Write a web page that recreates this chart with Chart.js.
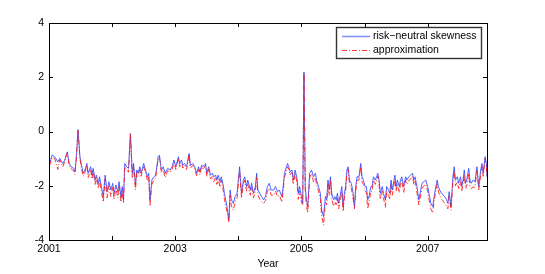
<!DOCTYPE html>
<html>
<head>
<meta charset="utf-8">
<script src="https://cdn.jsdelivr.net/npm/chart.js@4"></script>
<style>
  html, body { margin: 0; padding: 0; background: #fff; }
  #wrap { width: 545px; height: 274px; }
</style>
</head>
<body>
<div id="wrap"><canvas id="skewChart" width="545" height="274"></canvas></div>
<script>
// decimal year of each observation
const years = [
  2001.01, 2001.05, 2001.09, 2001.14, 2001.17, 2001.22, 2001.25, 2001.28, 2001.29, 2001.32,
  2001.35, 2001.39, 2001.41, 2001.43, 2001.46, 2001.49, 2001.51, 2001.54, 2001.57, 2001.60,
  2001.62, 2001.66, 2001.68, 2001.70, 2001.73, 2001.75, 2001.78, 2001.80, 2001.83, 2001.86,
  2001.89, 2001.92, 2001.95, 2001.98, 2002.01, 2002.03, 2002.06, 2002.09, 2002.11, 2002.14,
  2002.16, 2002.18, 2002.20, 2002.23, 2002.26, 2002.29, 2002.32, 2002.34, 2002.37, 2002.39,
  2002.41, 2002.44, 2002.46, 2002.50, 2002.53, 2002.56, 2002.58, 2002.60, 2002.63, 2002.66,
  2002.69, 2002.73, 2002.75, 2002.78, 2002.81, 2002.84, 2002.88, 2002.92, 2002.95, 2002.98,
  2003.01, 2003.03, 2003.05, 2003.07, 2003.10, 2003.12, 2003.15, 2003.18, 2003.22, 2003.24,
  2003.28, 2003.31, 2003.34, 2003.37, 2003.39, 2003.42, 2003.44, 2003.48, 2003.50, 2003.53,
  2003.56, 2003.59, 2003.61, 2003.64, 2003.66, 2003.68, 2003.71, 2003.73, 2003.76, 2003.78,
  2003.82, 2003.85, 2003.87, 2003.89, 2003.92, 2003.95, 2003.98, 2004.02, 2004.05, 2004.08,
  2004.10, 2004.13, 2004.15, 2004.19, 2004.21, 2004.24, 2004.27, 2004.29, 2004.31, 2004.34,
  2004.37, 2004.40, 2004.43, 2004.46, 2004.49, 2004.52, 2004.56, 2004.59, 2004.62, 2004.65,
  2004.69, 2004.71, 2004.73, 2004.78, 2004.80, 2004.82, 2004.85, 2004.87, 2004.90, 2004.93,
  2004.95, 2004.97, 2005.00, 2005.02, 2005.04, 2005.06, 2005.08, 2005.10, 2005.13, 2005.16,
  2005.19, 2005.22, 2005.24, 2005.27, 2005.30, 2005.32, 2005.35, 2005.38, 2005.40, 2005.42,
  2005.44, 2005.46, 2005.48, 2005.51, 2005.53, 2005.55, 2005.57, 2005.59, 2005.61, 2005.64,
  2005.66, 2005.68, 2005.70, 2005.72, 2005.74, 2005.76, 2005.79, 2005.82, 2005.84, 2005.86,
  2005.88, 2005.91, 2005.94, 2005.96, 2005.98, 2006.01, 2006.03, 2006.05, 2006.07, 2006.10,
  2006.12, 2006.14, 2006.17, 2006.21, 2006.23, 2006.25, 2006.28, 2006.30, 2006.33, 2006.35,
  2006.38, 2006.40, 2006.42, 2006.44, 2006.48, 2006.50, 2006.52, 2006.55, 2006.57, 2006.59,
  2006.62, 2006.65, 2006.67, 2006.70, 2006.73, 2006.76, 2006.78, 2006.80, 2006.83, 2006.86,
  2006.88, 2006.91, 2006.94, 2006.97, 2007.00, 2007.03, 2007.05, 2007.08, 2007.11, 2007.13,
  2007.15, 2007.17, 2007.19, 2007.22, 2007.24, 2007.27, 2007.30, 2007.32, 2007.34, 2007.37,
  2007.40, 2007.42, 2007.44, 2007.47, 2007.49, 2007.52, 2007.54, 2007.56, 2007.58, 2007.60,
  2007.62, 2007.65, 2007.67, 2007.69, 2007.72, 2007.75, 2007.78, 2007.81, 2007.84, 2007.86,
  2007.88, 2007.91, 2007.93, 2007.94
];

const skewness = [
  -1.18, -0.87, -0.93, -1.12, -0.99, -1.18, -1.05, -0.81, -0.75, -1.18,
  -1.30, -1.36, -1.48, -1.05, 0.07, -0.93, -1.18, -1.54, -1.42, -1.18,
  -1.54, -1.30, -1.61, -1.36, -1.79, -1.61, -1.91, -1.67, -2.03, -2.40,
  -1.61, -2.22, -1.85, -2.16, -1.91, -2.28, -1.97, -2.22, -1.85, -2.40,
  -2.03, -2.52, -1.18, -1.30, -1.36, -0.07, -1.54, -1.18, -1.97, -1.42,
  -1.54, -1.30, -1.54, -1.18, -1.42, -1.67, -1.54, -2.52, -1.79, -1.67,
  -1.61, -0.93, -0.87, -1.42, -1.30, -1.54, -1.36, -1.42, -1.30, -1.05,
  -1.30, -1.12, -0.93, -1.18, -1.05, -1.24, -1.18, -1.30, -0.81, -1.24,
  -1.18, -1.30, -1.54, -1.30, -1.48, -1.24, -1.30, -1.18, -1.54, -1.30,
  -1.61, -1.54, -1.67, -1.61, -1.79, -1.61, -1.85, -1.67, -1.97, -2.28,
  -2.77, -3.26, -2.16, -2.52, -2.65, -2.40, -2.28, -1.30, -2.28, -1.79,
  -1.67, -2.03, -1.79, -2.16, -1.91, -2.28, -2.03, -1.54, -2.16, -2.28,
  -2.40, -2.52, -2.40, -2.03, -1.91, -2.16, -2.16, -2.03, -2.22, -2.16,
  -2.40, -2.03, -1.54, -1.18, -1.30, -1.48, -1.42, -1.79, -1.42, -1.73,
  -2.28, -2.03, -2.40, -2.65, 2.19, -2.03, -2.52, -2.77, -1.54, -1.42,
  -1.67, -1.54, -1.79, -2.03, -2.28, -2.89, -3.14, -2.40, -2.52, -1.79,
  -2.16, -1.67, -2.28, -2.52, -2.40, -2.52, -2.28, -2.65, -2.40, -2.03,
  -2.77, -2.28, -2.03, -1.42, -1.30, -1.79, -1.91, -2.28, -2.77, -2.03,
  -1.67, -1.67, -1.18, -1.67, -1.79, -2.03, -2.03, -2.52, -2.40, -2.03,
  -2.03, -1.67, -1.79, -1.54, -1.79, -2.28, -2.03, -2.28, -2.52, -2.03,
  -2.16, -2.28, -1.79, -2.16, -1.61, -2.03, -1.79, -2.03, -1.79, -1.67,
  -2.03, -1.67, -1.79, -1.67, -1.61, -1.54, -1.79, -1.67, -2.03, -2.52,
  -2.28, -1.91, -1.85, -1.79, -2.03, -2.40, -2.65, -2.77, -2.28, -2.03,
  -1.79, -2.03, -2.16, -2.28, -2.34, -2.40, -2.52, -2.65, -2.22, -2.77,
  -1.67, -1.30, -1.79, -1.67, -1.91, -1.67, -2.03, -1.79, -1.42, -1.91,
  -1.79, -1.36, -1.79, -1.91, -1.79, -1.85, -1.30, -2.03, -1.42, -1.18,
  -1.54, -0.93, -1.18, -1.67
];

const approximation = [
  -1.25, -0.95, -1.00, -1.40, -1.05, -1.30, -1.10, -0.85, -0.80, -1.25,
  -1.38, -1.45, -1.58, -1.10, 0.03, -1.00, -1.30, -1.65, -1.50, -1.25,
  -1.70, -1.40, -1.75, -1.45, -1.95, -1.70, -2.10, -1.80, -2.20, -2.60,
  -1.75, -2.45, -2.00, -2.40, -2.05, -2.50, -2.10, -2.45, -2.00, -2.60,
  -2.20, -2.65, -1.30, -1.40, -1.50, -0.10, -1.70, -1.30, -2.15, -1.55,
  -1.65, -1.40, -1.65, -1.30, -1.55, -1.80, -1.65, -2.75, -1.95, -1.80,
  -1.70, -1.00, -0.95, -1.50, -1.40, -1.70, -1.45, -1.50, -1.40, -1.15,
  -1.40, -1.20, -1.00, -1.30, -1.15, -1.35, -1.25, -1.40, -0.85, -1.35,
  -1.25, -1.40, -1.65, -1.40, -1.60, -1.30, -1.40, -1.25, -1.65, -1.40,
  -1.75, -1.65, -1.85, -1.70, -1.95, -1.75, -2.05, -1.80, -2.15, -2.50,
  -2.95, -3.35, -2.35, -2.75, -2.90, -2.60, -2.45, -1.45, -2.45, -1.95,
  -1.80, -2.20, -1.95, -2.35, -2.05, -2.45, -2.20, -1.70, -2.35, -2.50,
  -2.60, -2.65, -2.55, -2.20, -2.10, -2.35, -2.35, -2.20, -2.40, -2.35,
  -2.60, -2.20, -1.70, -1.30, -1.40, -1.60, -1.50, -1.95, -1.55, -1.90,
  -2.50, -2.20, -2.60, -2.70, 2.15, -2.20, -2.75, -3.00, -1.70, -1.55,
  -1.85, -1.70, -1.95, -2.20, -2.50, -3.10, -3.45, -2.60, -2.70, -1.95,
  -2.35, -1.80, -2.50, -2.75, -2.60, -2.70, -2.45, -2.85, -2.60, -2.20,
  -2.95, -2.45, -2.20, -1.55, -1.40, -1.95, -2.10, -2.50, -2.85, -2.20,
  -1.80, -1.80, -1.30, -1.85, -1.95, -2.20, -2.25, -2.85, -2.60, -2.20,
  -2.20, -1.80, -1.95, -1.65, -1.95, -2.50, -2.20, -2.45, -2.80, -2.20,
  -2.35, -2.50, -1.95, -2.35, -1.75, -2.20, -1.95, -2.25, -1.95, -1.80,
  -2.25, -1.80, -1.95, -1.80, -1.75, -1.65, -1.95, -1.80, -2.25, -2.70,
  -2.45, -2.10, -2.00, -1.95, -2.20, -2.60, -2.85, -3.00, -2.45, -2.20,
  -1.95, -2.20, -2.35, -2.50, -2.55, -2.65, -2.75, -2.85, -2.40, -2.90,
  -1.85, -1.45, -2.00, -1.85, -2.10, -1.85, -2.20, -1.95, -1.60, -2.10,
  -2.00, -1.55, -2.05, -2.10, -2.05, -2.05, -1.45, -2.15, -1.60, -1.30,
  -1.65, -1.00, -1.25, -1.70
];

const yTicks = [-4, -2, 0, 2, 4];
const xLabelYears = [2001, 2003, 2005, 2007];
const seriesNames = ["risk\u2212neutral skewness", "approximation"];

const blue = "rgba(40, 60, 255, 0.8)";
const red = "rgba(255, 20, 20, 0.85)";
const dashDot = [5, 2, 1, 2];
const font = "Liberation Sans, Arial, Helvetica, sans-serif";

// MATLAB style box with inward ticks on all four sides, plus the legend
const matlabFrame = {
  id: "matlabFrame",
  afterDraw(chart) {
    const ctx = chart.ctx;
    const a = chart.chartArea;
    const xs = chart.scales.x;
    const ys = chart.scales.y;
    ctx.save();
    ctx.strokeStyle = "#000";
    ctx.lineWidth = 1;
    ctx.strokeRect(Math.round(a.left) + 0.5, Math.round(a.top) + 0.5,
      Math.round(a.right - a.left), Math.round(a.bottom - a.top));
    ctx.beginPath();
    for (let yr = 2001; yr <= 2007; yr++) {
      const px = Math.round(xs.getPixelForValue(yr)) + 0.5;
      ctx.moveTo(px, a.bottom); ctx.lineTo(px, a.bottom - 4);
      ctx.moveTo(px, a.top); ctx.lineTo(px, a.top + 4);
    }
    yTicks.forEach((v) => {
      const py = Math.round(ys.getPixelForValue(v)) + 0.5;
      ctx.moveTo(a.left, py); ctx.lineTo(a.left + 4, py);
      ctx.moveTo(a.right, py); ctx.lineTo(a.right - 4, py);
    });
    ctx.stroke();

    // legend
    const lx = 336.5, ly = 27.5, lw = 145, lh = 31;
    ctx.fillStyle = "#fff";
    ctx.fillRect(lx, ly, lw, lh);
    ctx.strokeStyle = "#333";
    ctx.lineWidth = 1.4;
    ctx.strokeRect(lx, ly, lw, lh);
    ctx.lineWidth = 1.6;
    ctx.strokeStyle = "rgba(90, 110, 255, 0.75)";
    ctx.beginPath(); ctx.moveTo(342, 36.5); ctx.lineTo(370, 36.5); ctx.stroke();
    ctx.lineWidth = 1;
    ctx.strokeStyle = red;
    ctx.setLineDash(dashDot);
    ctx.beginPath(); ctx.moveTo(342, 50.5); ctx.lineTo(370, 50.5); ctx.stroke();
    ctx.setLineDash([]);
    ctx.fillStyle = "#000";
    ctx.font = "10.5px " + font;
    ctx.textBaseline = "middle";
    ctx.textAlign = "left";
    ctx.fillText(seriesNames[0], 373, 36.5);
    ctx.fillText(seriesNames[1], 373, 50.5);
    ctx.restore();
  }
};

const skewPoints = years.map((x, i) => ({ x: x, y: skewness[i] }));
const approxPoints = years.map((x, i) => ({ x: x, y: approximation[i] }));

const ctx = document.getElementById("skewChart").getContext("2d");
new Chart(ctx, {
  type: "line",
  data: {
    datasets: [
      {
        label: seriesNames[0],
        data: skewPoints,
        borderColor: blue,
        borderWidth: 1,
        pointRadius: 0,
        tension: 0,
        order: 1,
      },
      {
        label: seriesNames[1],
        data: approxPoints,
        borderColor: red,
        borderWidth: 1,
        borderDash: dashDot,
        pointRadius: 0,
        tension: 0,
        order: 0,
      },
    ],
  },
  options: {
    responsive: false,
    animation: false,
    layout: { padding: { left: 0, right: 58, top: 23, bottom: 4 } },
    plugins: { legend: { display: false }, tooltip: { enabled: false } },
    scales: {
      x: {
        type: "linear",
        min: 2001,
        max: 2007.94,
        grid: { display: false, drawTicks: false },
        border: { display: false },
        afterBuildTicks: (scale) => {
          scale.ticks = xLabelYears.map((v) => ({ value: v }));
        },
        ticks: {
          color: "#000",
          font: { family: font, size: 10.5 },
          padding: 3,
          maxRotation: 0,
          callback: (v) => String(v),
        },
        title: {
          display: true,
          text: "Year",
          color: "#000",
          font: { family: font, size: 10.5 },
          padding: { top: 0, bottom: 0 },
        },
        afterFit: (scale) => { scale.height = 30; },
      },
      y: {
        min: -4,
        max: 4,
        grid: { display: false, drawTicks: false },
        border: { display: false },
        afterBuildTicks: (scale) => {
          scale.ticks = yTicks.map((v) => ({ value: v }));
        },
        ticks: {
          color: "#000",
          font: { family: font, size: 10.5 },
          padding: 5,
          callback: (v) => String(v),
        },
        afterFit: (scale) => { scale.width = 49; },
      },
    },
  },
  plugins: [matlabFrame],
});
</script>
</body>
</html>
